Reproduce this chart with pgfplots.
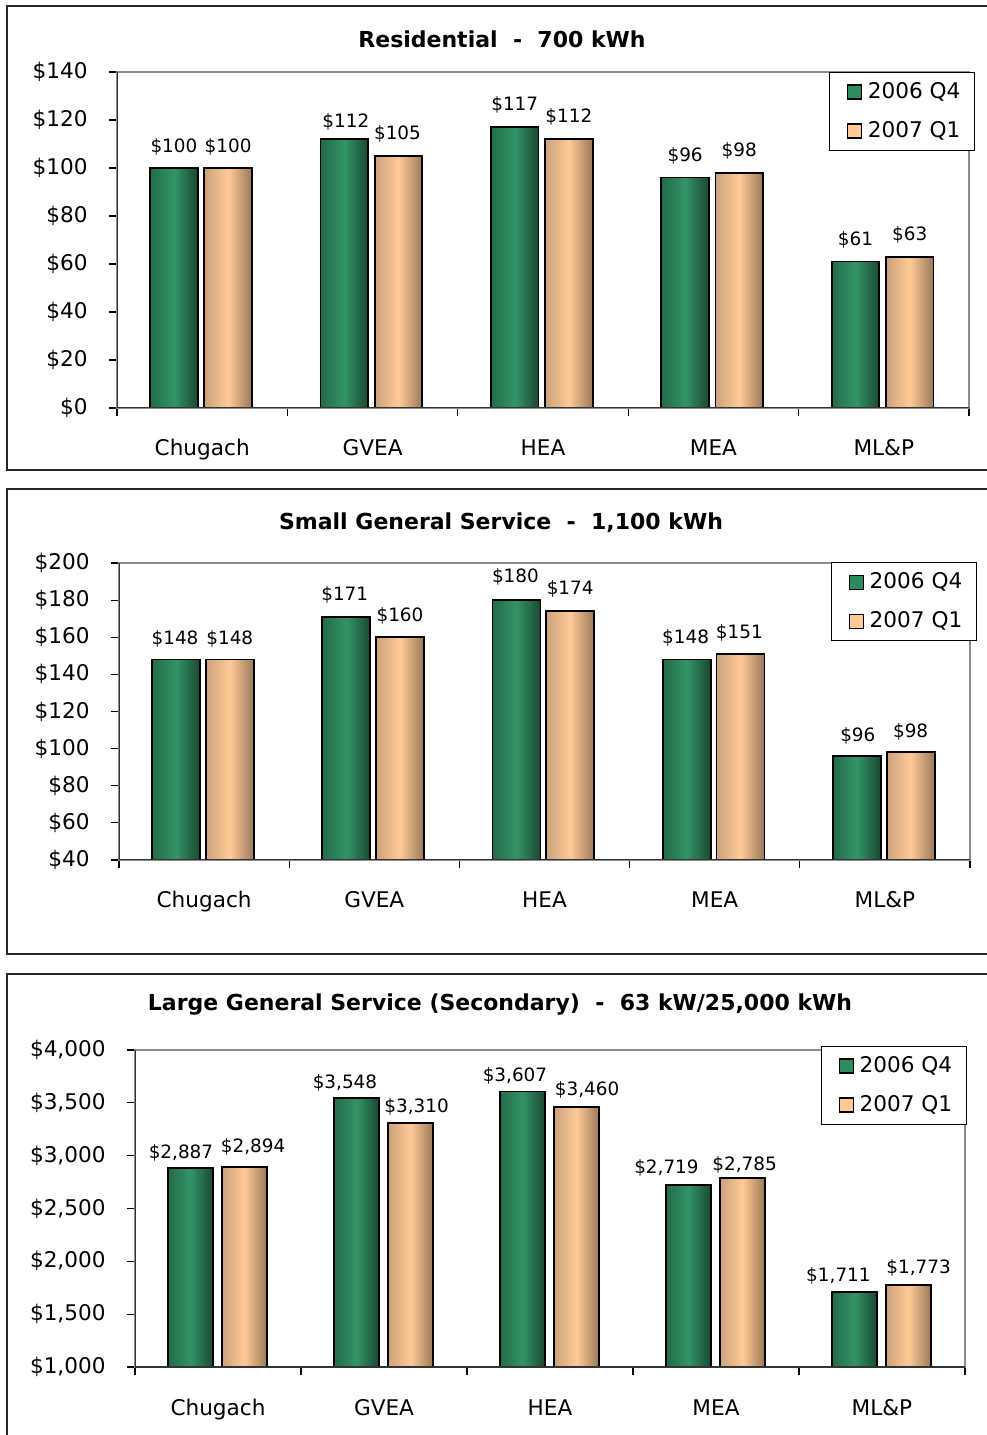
\documentclass[border=0pt]{standalone}
\usepackage{fontspec}
\setmainfont{DejaVu Sans}
\usepackage{pgfplots}
\usepackage{pgfplotstable}
\pgfplotsset{compat=1.18}

\definecolor{gL}{HTML}{236B49}
\definecolor{gM}{HTML}{339467}
\definecolor{gR}{HTML}{1A4832}
\definecolor{gLeg}{HTML}{2E8B5E}
\definecolor{pL}{HTML}{CCA27C}
\definecolor{pM}{HTML}{FFCA96}
\definecolor{pR}{HTML}{9A785A}
\definecolor{pLeg}{HTML}{FFC994}

% x  2006Q4  2007Q1  label offsets (pt)
\pgfplotstableread{
x g p gdx gdy pdx pdy
0 100 100 0 10.5 0 10.5
1 112 105 0.75 8.5 -0.5 11
2 117 112 0 11 0 11
3 96 98 0 11 0 11
4 61 63 0 11 0 11
}\resA
\pgfplotstableread{
x g p gdx gdy pdx pdy
0 148 148 -0.5 10.5 0 10.5
1 171 160 -0.75 11 0 10.5
2 180 174 -0.5 11.5 0 11
3 148 151 -0.5 11 -0.5 10.5
4 96 98 0.5 10 0 10
}\resB
\pgfplotstableread{
x g p gdx gdy pdx pdy
0 2887 2894 -4.75 7.3 4.25 10
1 3548 3310 -5.75 7.5 3 8
2 3607 3460 -3.75 7.75 5.25 8.5
3 2719 2785 -11 8.5 1 7
4 1711 1773 -8 8 5 8.5
}\resC

\pgfplotsset{
  /pgf/number format/assume math mode=true,
  mybase/.style={
    scale only axis, ybar,
    xmin=-0.5, xmax=4.5,
    xtick={-0.5,0.5,1.5,2.5,3.5,4.5},
    xticklabels={,,,,,},
    extra x ticks={0,1,2,3,4},
    extra x tick labels={Chugach,GVEA,HEA,MEA,ML\&P},
    extra x tick style={major tick length=0pt},
    xticklabel style={anchor=base, yshift=-24pt},
    tick align=outside, major tick length=4pt,
    xtick pos=bottom, ytick pos=left,
    axis line style={draw=gray!90, line width=0.6pt},
    tick style={black, line width=0.6pt},
    yticklabel={\$\pgfmathprintnumber{\tick}},
    scaled y ticks=false,
    yticklabel style={anchor=east, inner sep=0pt, xshift=-10.5pt},
    tick label style={font=\fontsize{10.8}{12}\selectfont},
    point meta=y,
    nodes near coords={\$\pgfmathprintnumber{\pgfplotspointmeta}},
    every node near coord/.append style={anchor=center, font=\fontsize{9.2}{10}\selectfont, xshift=\mydx pt, yshift=\mydy pt},
    legend image code/.code={\path[draw=none, fill=none] (-4pt,0pt) -- (8pt,0pt); \draw[##1, draw=black, line width=0.6pt] (0pt,-3.5pt) rectangle (7pt,3.5pt);},
    legend cell align=left,
    legend style={draw=black, line width=0.5pt, anchor=north east,
      font=\fontsize{10.8}{12}\selectfont,
      inner xsep=5pt, inner ysep=3pt, row sep=6pt},
    clip=true,
  },
  gbar/.style={draw=black, line width=0.9pt, left color=gL, right color=gR, middle color=gM},
  pbar/.style={draw=black, line width=0.9pt, left color=pL, right color=pR, middle color=pM},
}

\begin{document}
\begin{tikzpicture}
\useasboundingbox (0pt,0pt) rectangle (493pt,717.5pt);
% panel frames
\draw[line width=0.9pt, black!85] (3.5pt,482.5pt) rectangle (510pt,714.5pt);
\draw[line width=0.9pt, black!85] (3.5pt,240.5pt) rectangle (510pt,473pt);
\draw[line width=0.9pt, black!85] (3.5pt,-10pt) rectangle (510pt,230.5pt);
% titles
\node[font=\bfseries\fontsize{11}{13}\selectfont] at (251pt,698pt) {Residential\ \ -\ \ 700 kWh};
\node[font=\bfseries\fontsize{11}{13}\selectfont] at (250.5pt,456pt) {Small General Service\ \ -\ \ 1,100 kWh};
\node[font=\bfseries\fontsize{11}{13}\selectfont] at (250pt,215pt) {Large General Service (Secondary)\ \ -\ \ 63 kW/25,000 kWh};

% Panel 1
\begin{axis}[mybase, at={(58.5pt,513.5pt)}, anchor=south west, width=426pt, height=168pt,
  ymin=0, ymax=140, ytick={0,20,...,140}, bar width=0.279,
  legend style={at={(1.007,1)}}]
\pgfplotsinvokeforeach{0,1,2,3,4}{
\addplot[gbar, forget plot, bar shift=-0.166, visualization depends on={\thisrow{gdx}\as\mydx}, visualization depends on={\thisrow{gdy}\as\mydy}] table[x=x,y=g,restrict x to domain=#1:#1]{\resA};
\addplot[pbar, forget plot, bar shift=0.152, visualization depends on={\thisrow{pdx}\as\mydx}, visualization depends on={\thisrow{pdy}\as\mydy}] table[x=x,y=p,restrict x to domain=#1:#1]{\resA};
}
\addlegendimage{fill=gLeg}\addlegendentry{2006 Q4}
\addlegendimage{fill=pLeg}\addlegendentry{2007 Q1}
\draw[black!80, line width=0.8pt] (rel axis cs:0,1) -- (rel axis cs:0,0) -- (rel axis cs:1,0);
\end{axis}

% Panel 2
\begin{axis}[mybase, at={(59.5pt,287.5pt)}, anchor=south west, width=425.5pt, height=148.5pt,
  ymin=40, ymax=200, ytick={40,60,...,200}, bar width=0.282,
  legend style={at={(1.008,1.003)}}]
\pgfplotsinvokeforeach{0,1,2,3,4}{
\addplot[gbar, forget plot, bar shift=-0.165, visualization depends on={\thisrow{gdx}\as\mydx}, visualization depends on={\thisrow{gdy}\as\mydy}] table[x=x,y=g,restrict x to domain=#1:#1]{\resB};
\addplot[pbar, forget plot, bar shift=0.151, visualization depends on={\thisrow{pdx}\as\mydx}, visualization depends on={\thisrow{pdy}\as\mydy}] table[x=x,y=p,restrict x to domain=#1:#1]{\resB};
}
\addlegendimage{fill=gLeg}\addlegendentry{2006 Q4}
\addlegendimage{fill=pLeg}\addlegendentry{2007 Q1}
\draw[black!80, line width=0.8pt] (rel axis cs:0,1) -- (rel axis cs:0,0) -- (rel axis cs:1,0);
\end{axis}

% Panel 3
\begin{axis}[mybase, at={(67.5pt,34pt)}, anchor=south west, width=415pt, height=158.5pt,
  ymin=1000, ymax=4000, ytick={1000,1500,...,4000}, bar width=0.271,
  legend style={at={(1.002,1.013)}}]
\pgfplotsinvokeforeach{0,1,2,3,4}{
\addplot[gbar, forget plot, bar shift=-0.166, visualization depends on={\thisrow{gdx}\as\mydx}, visualization depends on={\thisrow{gdy}\as\mydy}] table[x=x,y=g,restrict x to domain=#1:#1]{\resC};
\addplot[pbar, forget plot, bar shift=0.16, visualization depends on={\thisrow{pdx}\as\mydx}, visualization depends on={\thisrow{pdy}\as\mydy}] table[x=x,y=p,restrict x to domain=#1:#1]{\resC};
}
\addlegendimage{fill=gLeg}\addlegendentry{2006 Q4}
\addlegendimage{fill=pLeg}\addlegendentry{2007 Q1}
\draw[black!80, line width=0.8pt] (rel axis cs:0,1) -- (rel axis cs:0,0) -- (rel axis cs:1,0);
\end{axis}
\end{tikzpicture}
\end{document}
